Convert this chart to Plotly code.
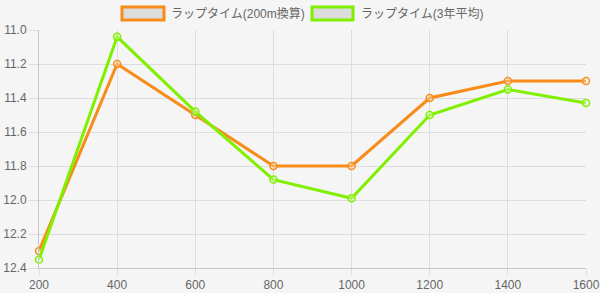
import plotly.graph_objects as go

distances = [200, 400, 600, 800, 1000, 1200, 1400, 1600]
lap_200m = [12.3, 11.2, 11.5, 11.8, 11.8, 11.4, 11.3, 11.3]
lap_3yr = [12.35, 11.04, 11.48, 11.88, 11.99, 11.5, 11.35, 11.43]
series_names = ["ラップタイム(200m換算)", "ラップタイム(3年平均)"]
y_ticks = [11.0, 11.2, 11.4, 11.6, 11.8, 12.0, 12.2, 12.4]

ORANGE = "#f78c1a"
GREEN = "#80f000"
FONT = "Liberation Sans, Noto Sans CJK JP, sans-serif"

W, H = 600, 293
L, R, T, B = 39, 14, 30, 25
pw, ph = W - L - R, H - T - B

def px_x(p):
    return (p - L) / pw

def px_y(p):
    return (H - B - p) / ph

fig = go.Figure()
for vals, col, name in [(lap_200m, ORANGE, series_names[0]), (lap_3yr, GREEN, series_names[1])]:
    fig.add_trace(go.Scatter(
        x=distances, y=vals, mode="lines+markers", name=name,
        line=dict(color=col, width=3),
        marker=dict(size=7, color="rgba(255,255,255,0.3)", line=dict(color=col, width=1.5)),
        showlegend=False, cliponaxis=False,
    ))

# legend drawn chart.js-style
legend_items = [(122, 164, ORANGE, series_names[0], 169), (312, 353, GREEN, series_names[1], 359)]
for x0, x1, col, name, tx in legend_items:
    fig.add_shape(type="rect", xref="paper", yref="paper",
                  x0=px_x(x0), x1=px_x(x1), y0=px_y(20), y1=px_y(7),
                  fillcolor="#dcdcdc", line=dict(color=col, width=3))
    fig.add_annotation(xref="paper", yref="paper", x=px_x(tx), y=px_y(13.5),
                       xanchor="left", yanchor="middle", showarrow=False,
                       text=name, font=dict(family=FONT, size=12, color="#666666"))

fig.update_layout(
    width=W, height=H,
    margin=dict(l=L, r=R, t=T, b=B, autoexpand=False),
    paper_bgcolor="#f5f5f5", plot_bgcolor="#f5f5f5",
    font=dict(family=FONT, size=12, color="#666666"),
    xaxis=dict(range=[200, 1600], tickvals=distances, showgrid=True, gridcolor="#dddddd",
               gridwidth=1, zeroline=False, showline=True, linecolor="#c8c8c8",
               ticks="outside", ticklen=6, tickcolor="#dddddd", tickfont=dict(size=12),
               automargin=False),
    yaxis=dict(range=[12.4, 11.0], tickvals=y_ticks, tickformat=".1f", showgrid=True,
               gridcolor="#dddddd", gridwidth=1, zeroline=False, showline=True,
               linecolor="#c8c8c8", ticks="outside", ticklen=9, tickcolor="#dddddd",
               tickfont=dict(size=12), automargin=False),
)

fig.write_html("out.html")
